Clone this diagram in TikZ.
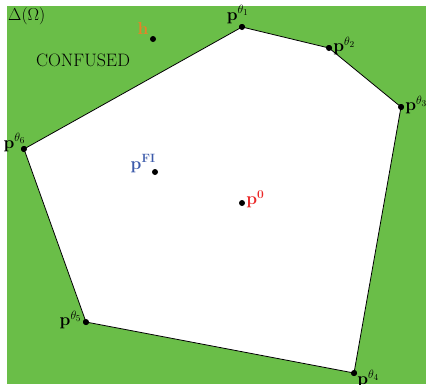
\documentclass[tikz,border=0pt]{standalone}
\usepackage{amsmath}
\definecolor{bggreen}{RGB}{106,190,72}
\definecolor{hcol}{RGB}{230,130,40}
\definecolor{ficol}{RGB}{60,90,170}
\definecolor{zcol}{RGB}{235,40,40}
\begin{document}
\begin{tikzpicture}[x=1pt,y=-1pt,
  pt/.style={circle,fill=black,inner sep=0pt,minimum size=6pt},
  lab/.style={inner sep=1pt,font=\fontsize{18}{20}\selectfont}]
\useasboundingbox (0,0) rectangle (426,384);
\fill[white] (0,0) rectangle (426,384);
\fill[bggreen] (7,6) rectangle (426,384);
\node[pt] (t1) at (242,27) {};
\node[pt] (t2) at (329,48) {};
\node[pt] (t3) at (401,107) {};
\node[pt] (t4) at (354,373) {};
\node[pt] (t5) at (86,322) {};
\node[pt] (t6) at (24,149) {};
\fill[white,draw=black,line width=0.8pt] (t1.center) -- (t2.center) -- (t3.center) -- (t4.center) -- (t5.center) -- (t6.center) -- cycle;
\foreach \n in {t1,t2,t3,t4,t5,t6}{\node[pt] at (\n) {};}
\node[pt] (h) at (153,39) {};
\node[pt] (fi) at (155,172) {};
\node[pt] (p0) at (242,203) {};
\node[lab,anchor=south east,xshift=8pt,yshift=-1pt] at (t1.north) {$\mathbf{p}^{\theta_1}$};
\node[lab,anchor=west,yshift=2pt] at (t2.east) {$\mathbf{p}^{\theta_2}$};
\node[lab,anchor=west,yshift=2pt] at (t3.east) {$\mathbf{p}^{\theta_3}$};
\node[lab,anchor=north west,yshift=4pt,xshift=-1pt] at (t4.east) {$\mathbf{p}^{\theta_4}$};
\node[lab,anchor=east,yshift=2pt] at (t5.west) {$\mathbf{p}^{\theta_5}$};
\node[lab,anchor=south east,xshift=5pt,yshift=-6pt] at (t6.north west) {$\mathbf{p}^{\theta_6}$};
\node[lab,anchor=south east,text=hcol,xshift=-1pt,yshift=1pt] at (h.north west) {$\mathbf{h}$};
\node[lab,anchor=south east,text=ficol,xshift=4pt,yshift=-4pt] at (fi.north west) {$\mathbf{p}^{\mathbf{FI}}$};
\node[lab,anchor=west,text=zcol,yshift=4pt] at (p0.east) {$\mathbf{p}^{\mathbf{0}}$};
\node[lab,anchor=north west,inner sep=0pt] (om) at (8,7) {$\Delta(\Omega)$};
\node[font=\fontsize{18}{20}\selectfont] (conf) at (83,60) {CONFUSED};
\end{tikzpicture}
\end{document}
